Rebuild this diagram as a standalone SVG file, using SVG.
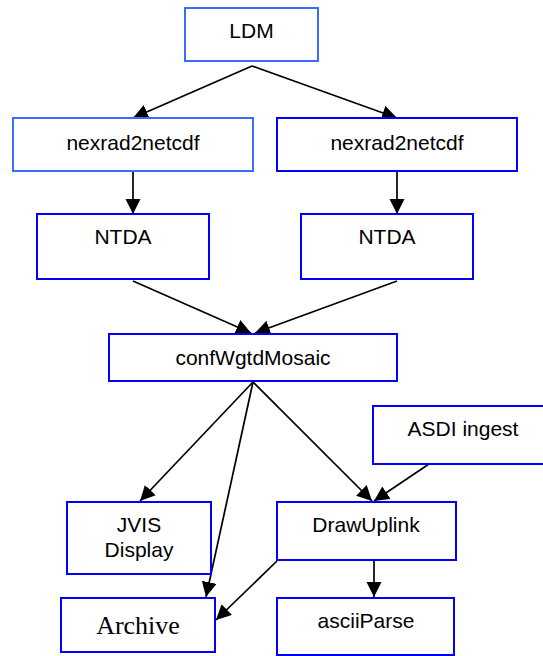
<svg xmlns="http://www.w3.org/2000/svg" width="543" height="656" viewBox="0 0 543 656">
<style>
.box{fill:#fff;stroke:#0000ff;stroke-width:2}
.light{stroke:#3d6bff}
.t{font-family:"Liberation Sans",Arial,sans-serif;font-size:21px;fill:#000;text-anchor:middle}
.serif{font-family:"Liberation Serif","Times New Roman",serif;font-size:26px;fill:#000;text-anchor:middle}
.c line{stroke:#000;stroke-width:1.7;marker-end:url(#ah)}
</style>
<defs>
<marker id="ah" markerUnits="userSpaceOnUse" markerWidth="16" markerHeight="16" refX="15" refY="7.5" orient="auto">
<path d="M0,0 L15,7.5 L0,15 z" fill="#000"/>
</marker>
</defs>
<rect width="543" height="656" fill="#fff"/>
<g class="c" id="connectors">
<line x1="252" y1="66" x2="133" y2="118"/>
<line x1="252" y1="66" x2="397" y2="118"/>
<line x1="133" y1="171" x2="133" y2="214"/>
<line x1="397" y1="171" x2="397" y2="214"/>
<line x1="133" y1="281" x2="251" y2="333"/>
<line x1="397" y1="281" x2="255" y2="333"/>
<line x1="253" y1="382" x2="140" y2="501"/>
<line x1="253" y1="382" x2="206" y2="597"/>
<line x1="253" y1="382" x2="372" y2="501"/>
<line x1="429" y1="464" x2="374" y2="501"/>
<line x1="277" y1="561" x2="216" y2="620"/>
<line x1="374" y1="561" x2="374" y2="597"/>
</g>
<g id="ldm"><rect class="box light" x="185" y="8" width="133" height="53"/><text class="t" x="251.5" y="38">LDM</text></g>
<g id="nexrad1"><rect class="box light" x="13" y="118" width="240" height="53"/><text class="t" x="133" y="150">nexrad2netcdf</text></g>
<g id="nexrad2"><rect class="box" x="277" y="118" width="240" height="53"/><text class="t" x="397" y="150">nexrad2netcdf</text></g>
<g id="ntda1"><rect class="box" x="37" y="214" width="172" height="65"/><text class="t" x="123" y="244">NTDA</text></g>
<g id="ntda2"><rect class="box" x="301" y="214" width="172" height="65"/><text class="t" x="387" y="244">NTDA</text></g>
<g id="mosaic"><rect class="box" x="109" y="334" width="288" height="47"/><text class="t" x="253" y="365">confWgtdMosaic</text></g>
<g id="asdi"><rect class="box" x="373" y="406" width="180" height="58"/><text class="t" x="463" y="436">ASDI ingest</text></g>
<g id="jvis"><rect class="box" x="67" y="502" width="144" height="72"/><text class="t" x="139" y="532">JVIS</text><text class="t" x="139" y="557">Display</text></g>
<g id="drawuplink"><rect class="box" x="277" y="502" width="179" height="58"/><text class="t" x="366" y="532">DrawUplink</text></g>
<g id="archive"><rect class="box" x="61" y="598" width="154" height="54"/><text class="serif" x="138" y="634">Archive</text></g>
<g id="asciiparse"><rect class="box" x="277" y="598" width="177" height="57"/><text class="t" x="366" y="628">asciiParse</text></g>
</svg>
